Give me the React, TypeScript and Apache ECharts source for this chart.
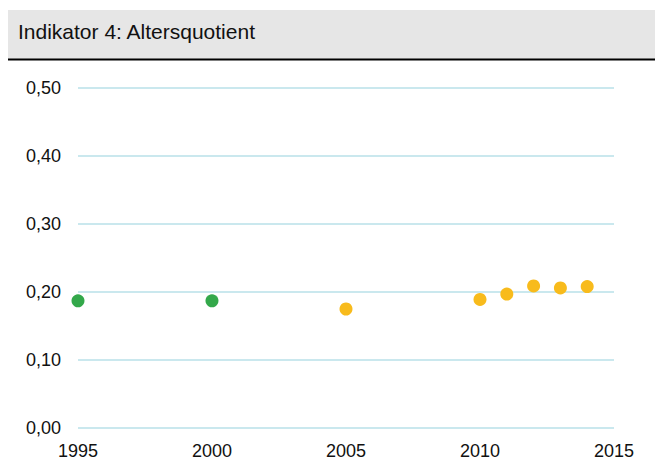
import React, { useEffect, useRef } from "react";
import * as echarts from "echarts";

const titleText = "Indikator 4: Altersquotient";
const greenYears = [1995, 2000];
const greenValues = [0.187, 0.187];
const yellowYears = [2005, 2010, 2011, 2012, 2013, 2014];
const yellowValues = [0.175, 0.189, 0.197, 0.209, 0.206, 0.208];

export default function App() {
  const ref = useRef<HTMLDivElement>(null);
  useEffect(() => {
    if (!ref.current) return;
    const chart = echarts.init(ref.current, undefined, { renderer: "svg" });
    const font = "Liberation Sans, Arial, Helvetica, sans-serif";
    chart.setOption({
      animation: false,
      backgroundColor: "#ffffff",
      graphic: [
        { type: "rect", shape: { x: 8, y: 10, width: 647, height: 49 }, style: { fill: "#e6e6e6" } },
        { type: "rect", shape: { x: 8, y: 58.5, width: 647, height: 2 }, style: { fill: "#000000" } },
        {
          type: "text",
          x: 18,
          y: 31,
          style: { text: titleText, fill: "#111111", font: `21px ${font}`, verticalAlign: "middle" },
        },
      ],
      grid: { left: 78, right: 41, top: 88, bottom: 33, containLabel: false },
      xAxis: {
        type: "value",
        min: 1995,
        max: 2015,
        interval: 5,
        axisLine: { show: false },
        axisTick: { show: false },
        splitLine: { show: false },
        axisLabel: {
          color: "#111",
          fontFamily: font,
          fontSize: 18,
          margin: 14,
          formatter: (v: number) => String(v),
        },
      },
      yAxis: {
        type: "value",
        min: 0,
        max: 0.5,
        interval: 0.1,
        axisLine: { show: false },
        axisTick: { show: false },
        splitLine: { show: true, lineStyle: { color: "#b8e0e8", width: 1.5 } },
        axisLabel: {
          color: "#111",
          fontFamily: font,
          fontSize: 18,
          margin: 17,
          formatter: (v: number) => v.toFixed(2).replace(".", ","),
        },
      },
      series: [
        {
          type: "scatter",
          symbolSize: 13,
          itemStyle: { color: "#33a84a", opacity: 1 },
          data: greenYears.map((y, i) => [y, greenValues[i]]),
        },
        {
          type: "scatter",
          symbolSize: 13,
          itemStyle: { color: "#f8bb1c", opacity: 1 },
          data: yellowYears.map((y, i) => [y, yellowValues[i]]),
        },
      ],
    });
    return () => chart.dispose();
  }, []);
  return <div ref={ref} style={{ position: "fixed", left: 0, top: 0, width: 655, height: 461 }} />;
}
